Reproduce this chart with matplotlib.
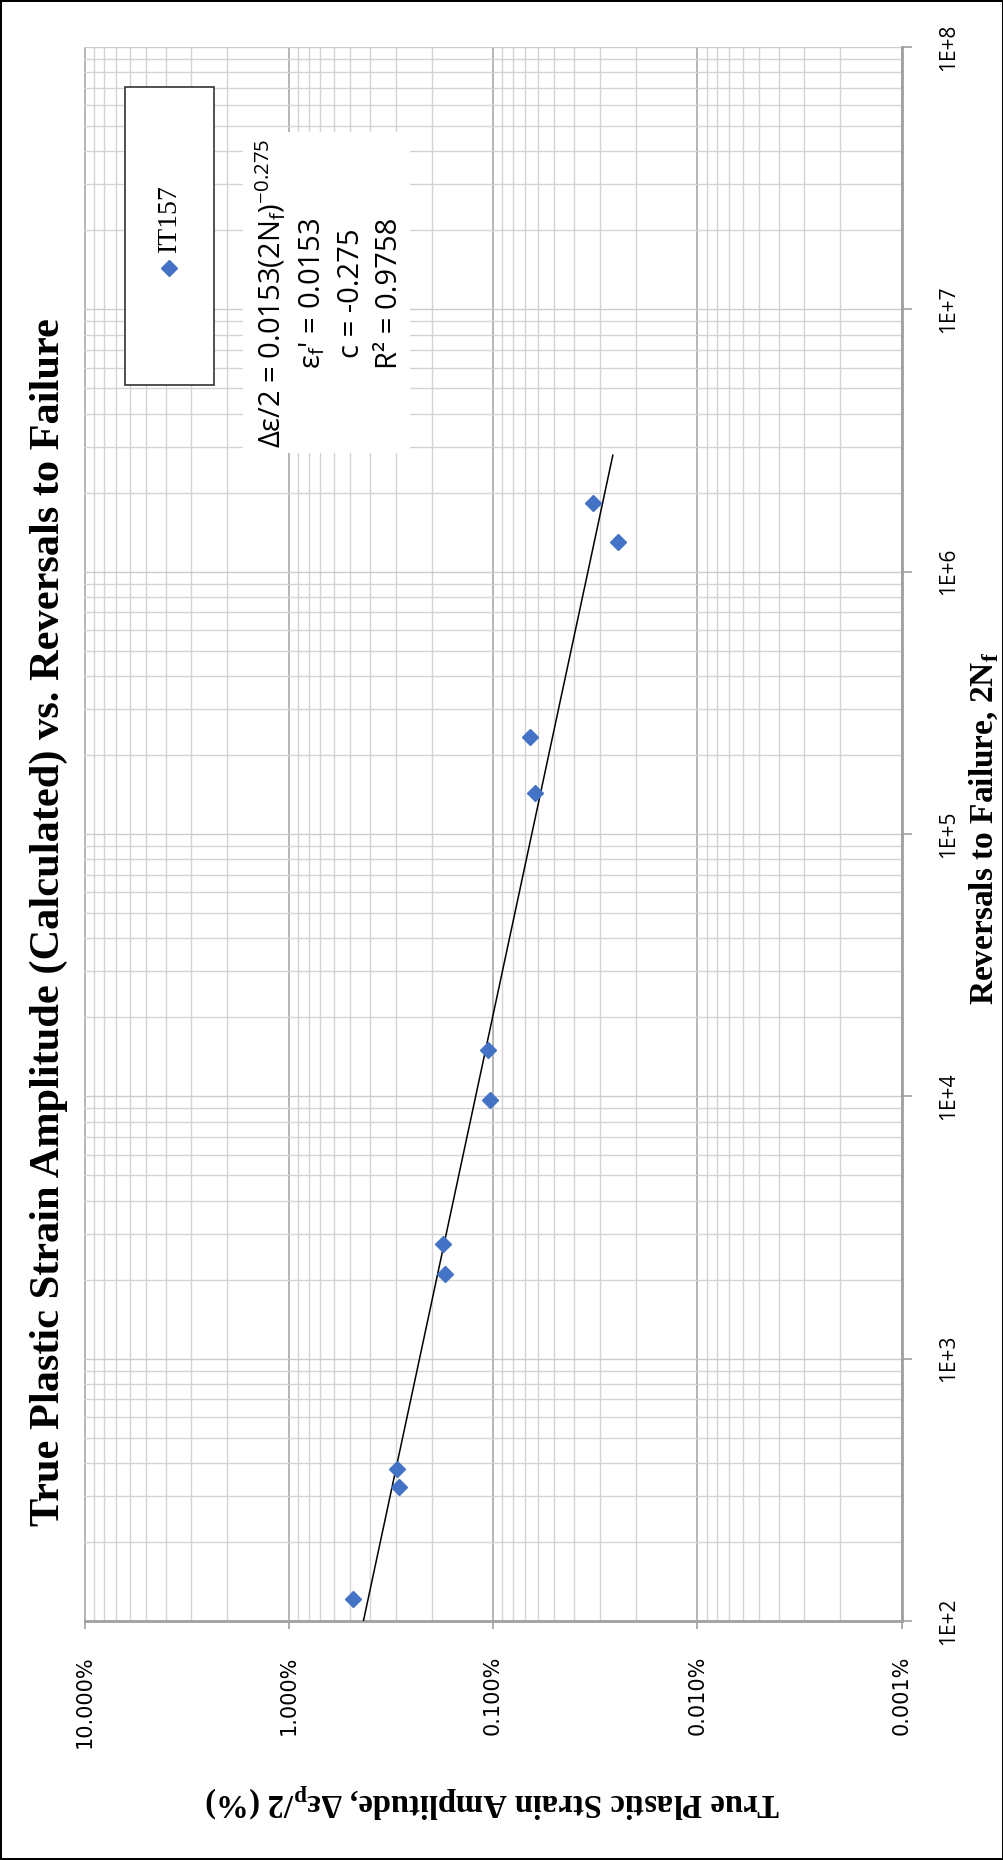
import numpy as np
import matplotlib
matplotlib.use("Agg")
import matplotlib.pyplot as plt
from matplotlib.ticker import LogLocator, NullFormatter
from matplotlib.patches import Rectangle
from matplotlib.lines import Line2D

# data (2Nf, plastic strain amplitude in %)
reversals = [121, 324, 381, 2110, 2730, 9670, 15000, 143000, 235000, 1300000, 1830000]
strain_pct = [0.483, 0.288, 0.295, 0.171, 0.175, 0.1038, 0.1054, 0.0622, 0.0659, 0.0243, 0.0325]

# power law trendline end points
trend_reversals = [100, 2.78e6]
trend_strain = [0.431, 0.0259]

strain_ticks = [10, 1, 0.1, 0.01, 0.001]
strain_labels = ["10.000%", "1.000%", "0.100%", "0.010%", "0.001%"]
rev_ticks = [1e2, 1e3, 1e4, 1e5, 1e6, 1e7, 1e8]
rev_labels = ["1E+2", "1E+3", "1E+4", "1E+5", "1E+6", "1E+7", "1E+8"]

series_name = "IT157"
eq_lines = [
    r"Δε/2 = 0.0153(2N$_\mathregular{f}$)$^\mathregular{-0.275}$",
    r"ε$_\mathregular{f}$' = 0.0153",
    "c = -0.275",
    "R² = 0.9758",
]

W, H = 1004, 1860
fig = plt.figure(figsize=(W / 100, H / 100), dpi=100, edgecolor="black", linewidth=1.5)

# chart is drawn turned on its side: strain runs left->right, reversals bottom->top
ax = fig.add_axes([84.5 / W, 1 - 1621 / H, (901.5 - 84.5) / W, (1621 - 47) / H])
ax.set_xscale("log")
ax.set_yscale("log")
ax.set_xlim(10, 0.001)
ax.set_ylim(1e2, 1e8)

ax.xaxis.set_minor_locator(LogLocator(base=10, subs=np.arange(2, 10), numticks=100))
ax.yaxis.set_minor_locator(LogLocator(base=10, subs=np.arange(2, 10), numticks=100))
ax.xaxis.set_minor_formatter(NullFormatter())
ax.yaxis.set_minor_formatter(NullFormatter())

ax.set_xticks(strain_ticks)
ax.set_xticklabels(strain_labels, rotation=90, fontsize=15, family="DejaVu Sans")
ax.set_yticks(rev_ticks)
ax.set_yticklabels(rev_labels, rotation=90, fontsize=15, family=["Open Sans", "DejaVu Sans"], va="center")
ax.yaxis.tick_right()

ax.grid(True, which="minor", color="#d4d4d4", lw=1)
ax.grid(True, which="major", axis="y", color="#cccccc", lw=1)
ax.grid(True, which="major", axis="x", color="#a8a8a8", lw=1.2)
ax.set_axisbelow(True)

ax.tick_params(which="minor", length=0)
ax.tick_params(axis="x", which="major", direction="out", length=6, width=1.2, color="#a0a0a0", pad=19)
ax.tick_params(axis="y", which="major", direction="out", length=7, width=1.2, color="#a0a0a0", pad=19)

for s in ["top", "left"]:
    ax.spines[s].set_visible(False)
for s in ["bottom", "right"]:
    ax.spines[s].set_color("#a0a0a0")
    ax.spines[s].set_linewidth(2)

ax.plot(trend_strain, trend_reversals, color="black", lw=1.1, zorder=3)
ax.plot(strain_pct, reversals, linestyle="none", marker="D", markersize=8,
        color="#4472C4", markeredgecolor="#4472C4", zorder=4)

# title and axis titles
fig.text(49 / W, 1 - 922 / H, "True Plastic Strain Amplitude (Calculated) vs. Reversals to Failure",
         rotation=90, ha="center", va="center", fontsize=30.5, fontweight="bold",
         family="Liberation Serif")
fig.text(493 / W, 1 - 1800 / H, r"True Plastic Strain Amplitude, Δε$_\mathregular{p}$/2 (%)",
         rotation=180, ha="center", va="center", fontsize=23.5, fontweight="bold",
         family="Liberation Serif")
fig.text(984 / W, 1 - 828 / H, r"Reversals to Failure, 2N$_\mathregular{f}$",
         rotation=90, ha="center", va="center", fontsize=24, fontweight="bold",
         family="Liberation Serif")

# legend box
fig.add_artist(Rectangle((125 / W, 1 - 385 / H), 89 / W, 298 / H, transform=fig.transFigure,
                         facecolor="white", edgecolor="#333333", lw=1.2, zorder=5))
fig.add_artist(Line2D([169 / W], [1 - 268 / H], transform=fig.transFigure, marker="D",
                      markersize=8, color="#4472C4", linestyle="none", zorder=6))
fig.text(169 / W, 1 - 218 / H, series_name, rotation=90, ha="center", va="center",
         fontsize=20, family="Liberation Serif", zorder=6)

# trendline equation box
fig.add_artist(Rectangle((243 / W, 1 - 453 / H), 167 / W, 321 / H, transform=fig.transFigure,
                         facecolor="white", edgecolor="none", zorder=5))
fig.text(329 / W, 1 - 293 / H, "\n".join(eq_lines), rotation=90, ha="center", va="center",
         multialignment="center", fontsize=21, linespacing=1.42,
         family=["Open Sans", "DejaVu Sans"], zorder=6)

fig.savefig("out.png", dpi=100, edgecolor=fig.get_edgecolor())
